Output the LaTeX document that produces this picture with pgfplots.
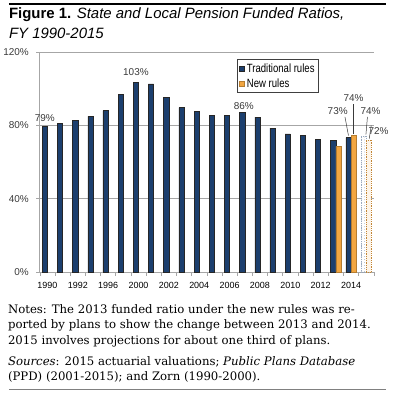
\documentclass[border=0pt]{standalone}
\usepackage{fontspec}
\setmainfont{DejaVu Serif}
\setsansfont{Liberation Sans}
\newfontfamily\narrowsans[FakeStretch=0.8]{Liberation Sans}
\usepackage{pgfplots}
\pgfplotsset{compat=1.18}
\usetikzlibrary{patterns}
\definecolor{navy}{HTML}{1C3F6E}
\definecolor{orng}{HTML}{F2A641}
\definecolor{lbl}{HTML}{3A3A3A}
\definecolor{gridc}{HTML}{A6A6A6}
\begin{document}
\begin{tikzpicture}[x=1bp,y=1bp]
\path (0,0) rectangle (399,-400);
\draw[line width=2bp] (8,-4) -- (385,-4);
\node[anchor=base west, inner sep=0, font=\sffamily\fontsize{15}{17}\selectfont] at (8,-18.5) {\textbf{Figure 1.} \textit{State and Local Pension Funded Ratios,}};
\node[anchor=base west, inner sep=0, font=\sffamily\fontsize{15}{17}\selectfont] at (8,-38) {\textit{FY 1990-2015}};
\begin{axis}[
  at={(39bp,-272bp)}, anchor=south west, scale only axis,
  width=334bp, height=220bp, clip=false,
  xmin=-0.5, xmax=21.5, ymin=0, ymax=120,
  axis x line*=bottom, axis y line*=left,
  axis line style={gridc, line width=0.7bp, -},
  ytick={0,40,80,120}, yticklabels={0\%,40\%,80\%,120\%},
  xtick={-0.5,0.5,...,21.5}, xticklabels={},
  extra x ticks={0,2,...,20},
  extra x tick labels={1990,1992,1996,2000,2002,2004,2006,2008,2010,2012,2014},
  extra x tick style={tick style={draw=none}, grid=none},
  tick align=outside, major tick length=3.5bp,
  tick style={gridc, line width=0.6bp},
  ymajorgrids, grid style={gridc, line width=0.7bp},
  yticklabel style={font=\sffamily\fontsize{10}{11}\selectfont, text=lbl, xshift=-4bp},
  xticklabel style={font=\sffamily\fontsize{9}{10}\selectfont, text=black, yshift=-3bp},
  /pgf/number format/assume math mode=true,
  ybar, bar width=5.2bp,
  legend style={at={(0.59,0.968)}, anchor=north west, draw=black!75, line width=0.6bp,
    font=\narrowsans\fontsize{12}{13}\selectfont, inner xsep=2bp, inner ysep=2bp,
    row sep=1bp, legend cell align=left},
  legend image code/.code={\draw[#1] (0bp,-2.6bp) rectangle (5.2bp,2.6bp);},
]
\addplot[fill=navy, draw=black!85, line width=0.5bp, bar shift=-2.6bp] coordinates {
 (0,79.6) (1,81.1) (2,82.9) (3,84.9) (4,88.0) (5,96.9) (6,103.3) (7,102.6)
 (8,95.1) (9,89.6) (10,87.5) (11,85.6) (12,85.3) (13,86.9) (14,84.5)
 (15,78.5) (16,75.3) (17,74.7) (18,72.5) (19,72.0) (20,73.3)};
\addlegendentry{Traditional rules}
\addplot[fill=orng, draw=orng!75!black, line width=0.5bp, bar shift=2.6bp] coordinates {
 (19,68.5) (20,74.7)};
\addlegendentry{New rules}
\addplot[forget plot, fill=white, draw=navy!45, densely dotted, line width=0.8bp, bar shift=-2.6bp,
  postaction={pattern=dots, pattern color=navy!35}] coordinates {(21,74.2)};
\addplot[forget plot, fill=orng!12, draw=orng!80!black, densely dotted, line width=0.8bp, bar shift=2.6bp] coordinates {(21,72.0)};
\begin{scope}[font=\sffamily\fontsize{10}{11}\selectfont, text=lbl]
\node at (axis cs:-0.17,84) {79\%};
\node at (axis cs:5.83,109) {103\%};
\node at (axis cs:12.94,90.5) {86\%};
\node at (axis cs:19.12,87.8) {73\%};
\node at (axis cs:20.17,94.9) {74\%};
\node at (axis cs:21.29,87.8) {74\%};
\node at (axis cs:21.81,76.9) {72\%};
\end{scope}
\draw[lbl, line width=0.5bp] (axis cs:19.6,84.6) -- (axis cs:19.83,74.4);
\draw[lbl, line width=0.5bp] (axis cs:20.17,91.4) -- (axis cs:20.17,75.5);
\draw[lbl, line width=0.5bp] (axis cs:21.08,84.6) -- (axis cs:20.98,75.0);
\draw[lbl, line width=0.5bp] (axis cs:21.33,80.0) -- (axis cs:21.2,72.8);
\end{axis}
\begin{scope}[font=\fontsize{11.75}{15.5}\selectfont]
\node[anchor=base west, inner sep=0] at (7,-313) {Notes: The 2013 funded ratio under the new rules was re-};
\node[anchor=base west, inner sep=0] at (7,-328.5) {ported by plans to show the change between 2013 and 2014.};
\node[anchor=base west, inner sep=0] at (7,-344) {2015 involves projections for about one third of plans.};
\node[anchor=base west, inner sep=0] at (7,-365) {\textit{Sources}: 2015 actuarial valuations; \textit{Public Plans Database}};
\node[anchor=base west, inner sep=0] at (7,-380.5) {(PPD) (2001-2015); and Zorn (1990-2000).};
\end{scope}
\draw[gray, line width=0.8bp] (8,-389) -- (385,-389);
\end{tikzpicture}
\end{document}
